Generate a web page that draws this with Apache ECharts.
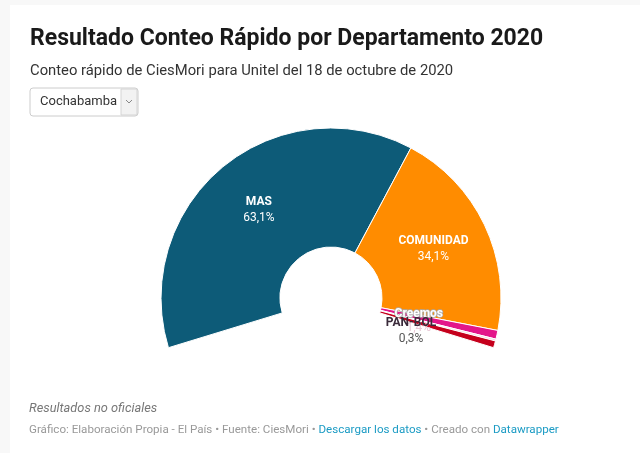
<!DOCTYPE html>
<html>
<head>
<meta charset="utf-8">
<script src="https://cdn.jsdelivr.net/npm/echarts@6/dist/echarts.min.js"></script>
<style>
    html, body { margin: 0; padding: 0; background: #f8f8f8; }
    #chartDiv { position: absolute; left: 10px; top: 5px; width: 630px; height: 448px; background: #fff; }
</style>
</head>
<body>
<div id="chartDiv"></div>
<script>
// datos del conteo rapido (Cochabamba)
let partidos = ["MAS", "COMUNIDAD", "Creemos", "PAN-BOL", "FPV"];
let porcentajes = [63.1, 34.1, 1.4, 0.3, 1.1];
let colores = ["#0d5b78", "#ff8c00", "#e3168a", "#f3d6dc", "#c5001c"];
let etiquetas = ["63,1%", "34,1%", "1,4%", "0,3%", ""];

let chart = echarts.init(document.getElementById("chartDiv"));
let font = "Roboto, 'Noto Sans', sans-serif";

let pieData = partidos.map(function (p, i) {
    let item = {
        name: p,
        value: porcentajes[i],
        itemStyle: { color: colores[i] },
    };
    if (p === "Creemos") {
        item.label = {
            offset: [-23, -2],
            formatter: "{c|{b}}\n{cv|" + etiquetas[i] + "}",
        };
    } else if (p === "PAN-BOL") {
        item.label = {
            offset: [-30, 5],
            formatter: "{p|{b}}\n{pv|" + etiquetas[i] + "}",
        };
    } else if (p === "FPV") {
        item.label = { show: false };
    } else {
        item.label = {
            formatter: "{n|{b}}\n{v|" + etiquetas[i] + "}",
        };
    }
    return item;
});

let options = {
    animation: false,
    title: {
        text: "Resultado Conteo Rápido por Departamento 2020",
        subtext: "Conteo rápido de CiesMori para Unitel del 18 de octubre de 2020",
        left: 15,
        top: 18,
        itemGap: 13,
        textStyle: {
            fontFamily: font,
            fontSize: 23,
            fontWeight: "bold",
            color: "#1a1a1a",
        },
        subtextStyle: {
            fontFamily: font,
            fontSize: 14.8,
            color: "#333",
        },
    },
    graphic: [
        {
            type: "rect",
            shape: { x: 20, y: 83, width: 108, height: 28, r: 3 },
            style: { fill: "#fff", stroke: "#ccc", lineWidth: 1 },
        },
        {
            type: "rect",
            shape: { x: 111, y: 84, width: 16, height: 26 },
            style: { fill: "#f2f2f2", stroke: "#d4d4d4", lineWidth: 1 },
        },
        {
            type: "polyline",
            shape: { points: [[116, 95], [119, 98], [122, 95]] },
            style: { stroke: "#888", lineWidth: 1, fill: null },
        },
        {
            type: "text",
            left: 30,
            top: 90,
            style: {
                text: "Cochabamba",
                font: "13px " + font,
                fill: "#333",
            },
        },
        {
            type: "text",
            left: 19,
            top: 397,
            style: {
                text: "Resultados no oficiales",
                font: "italic 12.8px " + font,
                fill: "#777",
            },
        },
        {
            type: "text",
            left: 19,
            top: 419,
            style: {
                text: "{g|Gráfico: Elaboración Propia - El País • Fuente: CiesMori • }{l|Descargar los datos}{g| • Creado con }{l|Datawrapper}",
                rich: {
                    g: { fontFamily: font, fontSize: 11.6, fill: "#999" },
                    l: { fontFamily: font, fontSize: 11.6, fill: "#1b9bc4" },
                },
            },
        },
    ],
    series: [
        {
            type: "pie",
            center: [321, 293],
            radius: [51, 170],
            startAngle: 197,
            endAngle: -17,
            clockwise: true,
            avoidLabelOverlap: false,
            labelLayout: { hideOverlap: false },
            itemStyle: { borderColor: "#fff", borderWidth: 1 },
            emphasis: { disabled: true },
            label: {
                show: true,
                position: "inside",
                lineHeight: 16,
                rich: {
                    n: { fontFamily: font, fontSize: 12, fontWeight: "bold", color: "#fff", lineHeight: 16 },
                    v: { fontFamily: font, fontSize: 12, color: "#fff", lineHeight: 16 },
                    c: {
                        fontFamily: font, fontSize: 12, fontWeight: "bold", color: "#fff",
                        textBorderColor: "#aaa", textBorderWidth: 1.5, lineHeight: 14,
                    },
                    cv: {
                        fontFamily: font, fontSize: 12, color: "#e8c8d6",
                        lineHeight: 14,
                    },
                    p: {
                        fontFamily: font, fontSize: 12, fontWeight: "bold", color: "#3a2a3a",
                        lineHeight: 16,
                    },
                    pv: {
                        fontFamily: font, fontSize: 12, color: "#555",
                        textBorderColor: "#fff", textBorderWidth: 2, lineHeight: 16,
                    },
                },
            },
            labelLine: { show: false },
            data: pieData,
        },
    ],
};
chart.setOption(options);
</script>
</body>
</html>
